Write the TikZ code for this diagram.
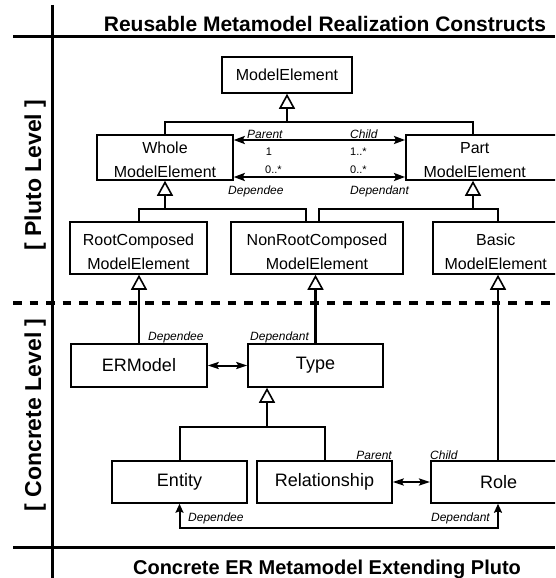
\documentclass[tikz,border=0pt]{standalone}
\usepackage{fontspec}
\setmainfont{Liberation Sans}
\usetikzlibrary{arrows.meta}
\tikzset{
  frame/.style={line width=3pt},
  levelsep/.style={line width=3.2pt, dash pattern=on 8.5pt off 8pt},
  box/.style={draw, line width=1.5pt, inner sep=0pt, align=center, font=\fontsize{16}{24}\selectfont},
  bigbox/.style={draw, line width=1.5pt, inner sep=0pt, align=center, font=\fontsize{18}{22}\selectfont},
  gentip/.tip={Triangle[open, length=15pt, width=16pt, line width=1.6pt]},
  gen/.style={line width=2pt, -gentip},
  crossgen/.style={line width=2.6pt, -gentip},
  bar/.style={line width=2pt},
  assoc/.style={line width=2pt, {Stealth[length=11pt, width=8pt, inset=2pt]}-{Stealth[length=11pt, width=8pt, inset=2pt]}},
  link/.style={line width=2pt, {Stealth[length=11pt, width=7pt, inset=2pt]}-{Stealth[length=11pt, width=7pt, inset=2pt]}},
  dep/.style={line width=2pt, {Stealth[length=9pt, width=8pt, inset=1.5pt]}-{Stealth[length=9pt, width=8pt, inset=1.5pt]}},
  rolelbl/.style={font=\fontsize{12}{14}\selectfont\itshape, inner sep=0pt},
  multlbl/.style={font=\fontsize{11}{13}\selectfont, inner sep=0pt},
  toptitle/.style={font=\fontsize{21}{24}\selectfont\bfseries, inner sep=0pt},
  bottitle/.style={font=\fontsize{20}{24}\selectfont\bfseries, inner sep=0pt},
  levellbl/.style={font=\fontsize{23}{26}\selectfont\bfseries, inner sep=0pt, rotate=90}
}
% struts that lower the two-line captions inside their boxes
\newcommand{\lowA}{\rule{0pt}{15.5pt}}
\newcommand{\lowB}{\rule{0pt}{18.7pt}}
\begin{document}
\begin{tikzpicture}[x=1pt,y=-1pt]
\useasboundingbox (0,0) rectangle (555,578);
\clip (0,0) rectangle (555,578);

% frame and level separator
\draw[frame] (52,5) -- (52,578);
\draw[frame] (13,37) -- (555,37);
\draw[frame] (13,547) -- (555,547);
\draw[levelsep] (13,303) -- (555,303);

% titles
\node[toptitle, anchor=base] (ttl) at (325,32) {Reusable Metamodel Realization Constructs};
\node[bottitle, anchor=base] (btl) at (327,574) {Concrete ER Metamodel Extending Pluto};
\node[levellbl, anchor=base] (pluto) at (41,175) {[ Pluto Level ]};
\node[levellbl, anchor=base] (concrete) at (41,415) {[ Concrete Level ]};

% Pluto level
\node[box, minimum width=130pt, minimum height=36pt] (model) at (287,75) {ModelElement};
\node[box, minimum width=136pt, minimum height=45pt] (whole) at (165,157.5) {\lowA Whole\\ModelElement};
\node[box, anchor=west, minimum width=180pt, minimum height=45pt, text width=180pt, align=left] (part) at (405,157.5) {\parbox[t]{138pt}{\centering\lowA Part\\ModelElement}};

\node[box, minimum width=137pt, minimum height=52pt] (root) at (138.5,248) {\lowB RootComposed\\ModelElement};
\node[box, minimum width=172pt, minimum height=52pt] (nonroot) at (317,248) {\lowB NonRootComposed\\ModelElement};
\node[box, anchor=west, minimum width=160pt, minimum height=52pt, text width=160pt, align=left] (basic) at (432,248) {\parbox[t]{126pt}{\centering\lowB Basic\\ModelElement}};

% concrete level
\node[bigbox, minimum width=136pt, minimum height=43pt] (ermodel) at (139,365.5) {ERModel};
\node[bigbox, minimum width=135pt, minimum height=43pt] (type) at (315.5,365.5) {Type};
\node[bigbox, minimum width=135pt, minimum height=42pt] (entity) at (179.5,482) {Entity};
\node[bigbox, minimum width=135pt, minimum height=42pt] (relationship) at (324.5,482) {Relationship};
\node[bigbox, anchor=west, minimum width=170pt, minimum height=42pt, text width=170pt, align=left] (role) at (430,482) {\parbox[t]{136pt}{\centering Role}};

% junction points
\coordinate (mj) at (287,122);
\coordinate (wj) at (165,209);
\coordinate (pj) at (473,209);
\coordinate (nrl) at (306,209);
\coordinate (nrr) at (319,209);
\coordinate (bsk) at (498,209);
\coordinate (tj) at (267,427);
\coordinate (a1) at (0,140);
\coordinate (a2) at (0,177);

% generalizations, Pluto level
\draw[bar] (whole.north) |- (mj) -| (pj |- part.north);
\draw[gen] (mj) -- (model.south);
\draw[bar] (root.north) |- (nrl) -- (nrl |- nonroot.north);
\draw[gen] (wj) -- (whole.south);
\draw[bar] (nrr |- nonroot.north) -- (nrr) -| (bsk |- basic.north);
\draw[gen] (pj) -- (pj |- part.south);

% associations, Pluto level
\draw[assoc] (whole.east |- a1) -- (part.west |- a1);
\draw[assoc] (whole.east |- a2) -- (part.west |- a2);
\node[rolelbl, anchor=base west] (parentA) at (247,138) {Parent};
\node[rolelbl, anchor=base west] (childA) at (350,138) {Child};
\node[multlbl, anchor=base] (mone) at (269,155) {1};
\node[multlbl, anchor=base west] (mmany) at (350,155) {1..*};
\node[multlbl, anchor=base west] (mzl) at (265,173) {0..*};
\node[multlbl, anchor=base west] (mzr) at (350,173) {0..*};
\node[rolelbl, anchor=base west] (depeeA) at (228,194) {Dependee};
\node[rolelbl, anchor=base west] (depantA) at (350,194) {Dependant};

% realizations across levels
\draw[crossgen] (ermodel.north) -- (ermodel.north |- root.south);
\draw[crossgen] (type.north) -- (type.north |- nonroot.south);
\draw[crossgen] (role.north -| bsk) -- (bsk |- basic.south);

% concrete level relations
\draw[bar] (entity.north) |- (tj) -| (relationship.north);
\draw[gen] (tj) -- (tj |- type.south);
\draw[link] (ermodel.east) -- (type.west);
\draw[link] (relationship.east) -- (role.west);
\draw[dep] (entity.south) -- ++(0,24) -| (role.south -| bsk);

\node[rolelbl, anchor=base west] (depeeB) at (148,340) {Dependee};
\node[rolelbl, anchor=base west] (depantB) at (250,340) {Dependant};
\node[rolelbl, anchor=base east] (parentB) at (392,459) {Parent};
\node[rolelbl, anchor=base west] (childB) at (430,459) {Child};
\node[rolelbl, anchor=base west] (depeeC) at (188,521) {Dependee};
\node[rolelbl, anchor=base east] (depantC) at (490,521) {Dependant};
\end{tikzpicture}
\end{document}
